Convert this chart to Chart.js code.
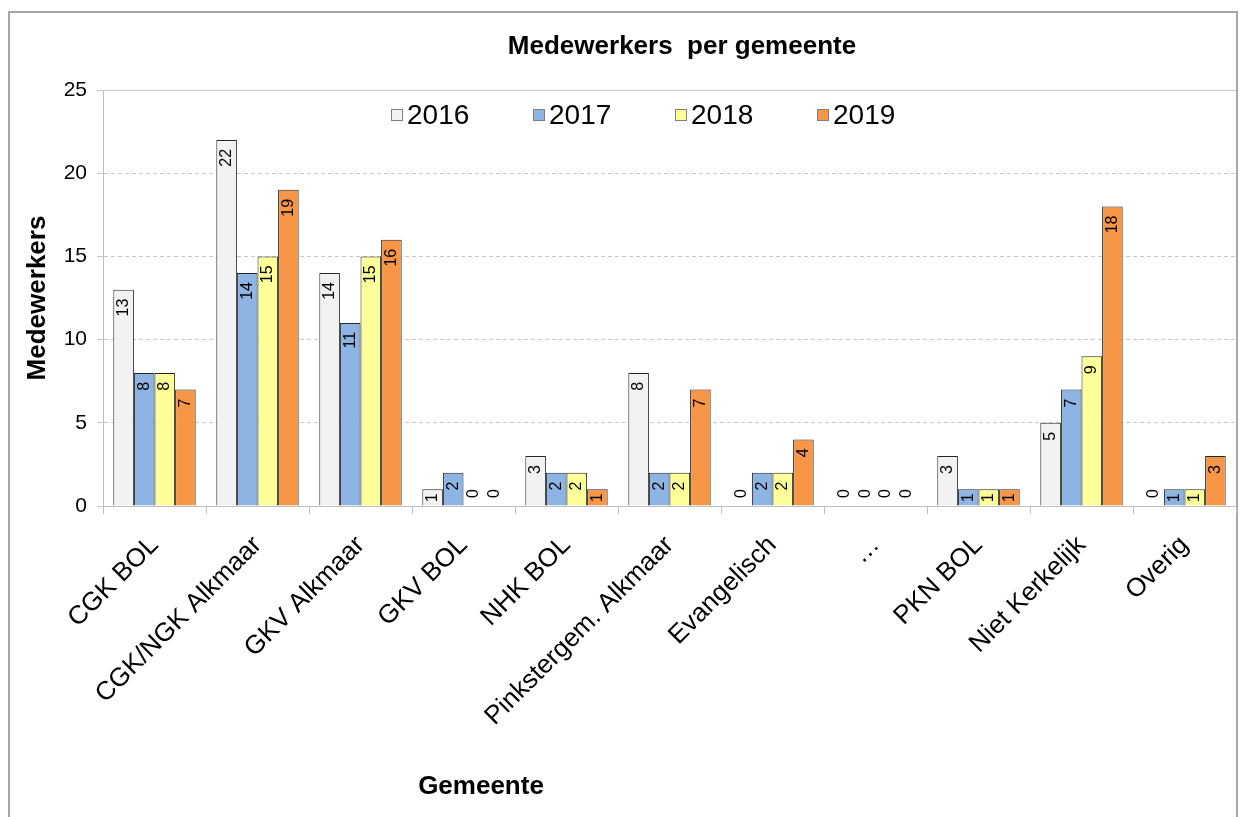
<!DOCTYPE html>
<html>
<head>
<meta charset="utf-8">
<script src="https://cdn.jsdelivr.net/npm/chart.js@4/dist/chart.umd.min.js"></script>
<style>
    html, body { margin: 0; padding: 0; background: #fff; }
</style>
</head>
<body>
<canvas id="grafiekGemeente" width="1247" height="817"></canvas>
<script>
// Categorieen en waarden
const gemeenten = ["CGK BOL", "CGK/NGK Alkmaar", "GKV Alkmaar", "GKV BOL", "NHK BOL",
    "Pinkstergem. Alkmaar", "Evangelisch", "\u2026", "PKN BOL", "Niet Kerkelijk", "Overig"];
const jaren = ["2016", "2017", "2018", "2019"];
const waarden2016 = [13, 22, 14, 1, 3, 8, 0, 0, 3, 5, 0];
const waarden2017 = [8, 14, 11, 2, 2, 2, 2, 0, 1, 7, 1];
const waarden2018 = [8, 15, 15, 0, 2, 2, 2, 0, 1, 9, 1];
const waarden2019 = [7, 19, 16, 0, 1, 7, 4, 0, 1, 18, 3];
const kleuren = ["#F2F2F2", "#8DB4E2", "#FFFF99", "#F79646"];

const lettertype = '"Liberation Sans", Arial, sans-serif';

// Kader rond de hele grafiek
const kader = {
    id: "kader",
    beforeDraw(chart) {
        const ctx = chart.ctx;
        ctx.save();
        ctx.fillStyle = "#fff";
        ctx.fillRect(0, 0, chart.width, chart.height);
        ctx.strokeStyle = "#a6a6a6";
        ctx.lineWidth = 2;
        ctx.strokeRect(9, 12, 1228, 830);
        ctx.restore();
    }
};

// Waarden in de staven, gedraaid
const waardeLabels = {
    id: "waardeLabels",
    afterDatasetsDraw(chart) {
        const ctx = chart.ctx;
        ctx.save();
        ctx.font = "16px " + lettertype;
        ctx.fillStyle = "#000";
        ctx.textBaseline = "middle";
        chart.data.datasets.forEach(function (ds, i) {
            chart.getDatasetMeta(i).data.forEach(function (staaf, j) {
                const v = ds.data[j];
                ctx.save();
                if (v === 0) {
                    ctx.translate(staaf.x, staaf.base - 8);
                    ctx.rotate(-Math.PI / 2);
                    ctx.textAlign = "left";
                } else {
                    ctx.translate(staaf.x, staaf.y + (v > 1 ? 9 : 4));
                    ctx.rotate(-Math.PI / 2);
                    ctx.textAlign = "right";
                }
                ctx.fillText(String(v), 0, 0);
                ctx.restore();
            });
        });
        ctx.restore();
    }
};

// Titel, legenda binnen het plotgebied en titel van de x-as
const legendaEnTitel = {
    id: "legendaEnTitel",
    afterDraw(chart) {
        const ctx = chart.ctx;
        const ca = chart.chartArea;
        ctx.save();
        ctx.fillStyle = "#000";
        ctx.textBaseline = "middle";
        ctx.textAlign = "center";
        ctx.font = "bold 26px " + lettertype;
        ctx.fillText("Medewerkers  per gemeente", 682, 47);
        ctx.fillText("Gemeente", 481, 787);

        ctx.font = "28px " + lettertype;
        ctx.textAlign = "left";
        chart.data.datasets.forEach(function (ds, i) {
            const x = ca.left + 288 + i * 142;
            const y = ca.top + 25;
            ctx.fillStyle = ds.backgroundColor;
            ctx.fillRect(x, y - 6, 12, 12);
            ctx.strokeStyle = "#7f7f7f";
            ctx.lineWidth = 1;
            ctx.strokeRect(x + 0.5, y - 5.5, 11, 11);
            ctx.fillStyle = "#000";
            ctx.fillText(ds.label, x + 16, y + 1);
        });
        ctx.restore();
    }
};

const datasets = [waarden2016, waarden2017, waarden2018, waarden2019].map(function (w, i) {
    return {
        label: jaren[i],
        data: w,
        backgroundColor: kleuren[i],
        borderColor: "#262626",
        borderWidth: 1,
        categoryPercentage: 0.8,
        barPercentage: 1.0
    };
});

new Chart(document.getElementById("grafiekGemeente"), {
    type: "bar",
    data: {
        labels: gemeenten,
        datasets: datasets
    },
    options: {
        responsive: false,
        animation: false,
        devicePixelRatio: 1,
        layout: { padding: { left: 10, right: 11, top: 90, bottom: 0 } },
        plugins: {
            legend: { display: false },
            tooltip: { enabled: false },
            title: { display: false }
        },
        scales: {
            x: {
                afterFit: function (s) { s.height = 311; },
                grid: {
                    offset: true,
                    drawOnChartArea: false,
                    color: "#bfbfbf",
                    tickLength: 8
                },
                border: { color: "#bfbfbf" },
                ticks: {
                    color: "#000",
                    font: { family: lettertype, size: 26 },
                    minRotation: 45,
                    maxRotation: 45,
                    padding: 16,
                    autoSkip: false
                }
            },
            y: {
                min: 0,
                max: 25,
                afterFit: function (s) { s.width = 93; },
                grid: {
                    color: "#c8c8c8",
                    tickLength: 6
                },
                border: {
                    color: "#bfbfbf",
                    dash: function (c) { return c.tick && c.tick.value === 25 ? [] : [4, 3]; }
                },
                ticks: {
                    stepSize: 5,
                    color: "#000",
                    font: { family: lettertype, size: 21 },
                    padding: 10
                },
                title: {
                    display: true,
                    text: "Medewerkers",
                    color: "#000",
                    font: { family: lettertype, size: 26, weight: "bold" },
                    padding: { top: 12, bottom: 0 }
                }
            }
        }
    },
    plugins: [kader, waardeLabels, legendaEnTitel]
});
</script>
</body>
</html>
